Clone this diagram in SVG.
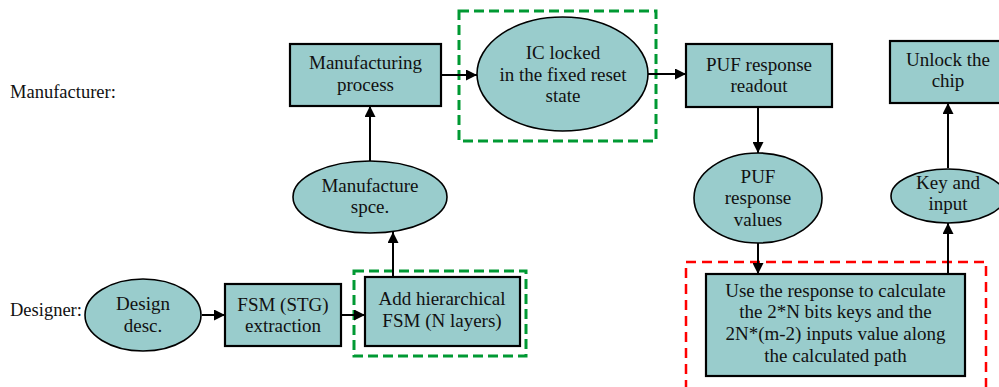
<svg xmlns="http://www.w3.org/2000/svg" width="999" height="387" viewBox="0 0 999 387">
  <defs>
    <marker id="arrow" viewBox="0 0 10 10" refX="10" refY="5" markerWidth="11" markerHeight="11" markerUnits="userSpaceOnUse" orient="auto">
      <path d="M0,0 L10,5 L0,10 Z" fill="#000"/>
    </marker>
  </defs>
  <style>
    .box { fill: #99cccc; stroke: #000; stroke-width: 2.2; }
    .oval { fill: #99cccc; stroke: #000; stroke-width: 1.6; }
    .lbl { font-family: "Liberation Serif", "Times New Roman", serif; font-size: 19px; fill: #111; text-anchor: middle; }
    .side { font-family: "Liberation Serif", "Times New Roman", serif; font-size: 18.5px; fill: #111; }
    .edge { stroke: #000; stroke-width: 2; fill: none; marker-end: url(#arrow); }
    .grp-green { fill: none; stroke: #009933; stroke-width: 3; stroke-dasharray: 10 5; }
    .grp-red { fill: none; stroke: #ff0000; stroke-width: 2.5; stroke-dasharray: 10 6; }
  </style>

  <rect width="999" height="387" fill="#fff"/>

  <!-- role labels -->
  <text class="side" x="10" y="98">Manufacturer:</text>
  <text class="side" x="10" y="316">Designer:</text>

  <!-- highlighted regions -->
  <rect class="grp-green" x="459" y="11" width="197" height="130"/>
  <rect class="grp-green" x="354" y="271" width="172" height="85"/>
  <rect class="grp-red" x="686" y="262" width="300" height="140"/>

  <!-- connectors -->
  <g id="connectors">
    <line class="edge" x1="202" y1="315" x2="225" y2="315"/>
    <line class="edge" x1="341" y1="315" x2="365" y2="315"/>
    <line class="edge" x1="393" y1="277" x2="393" y2="232"/>
    <line class="edge" x1="370" y1="161" x2="370" y2="106"/>
    <line class="edge" x1="441" y1="75" x2="477" y2="75"/>
    <line class="edge" x1="648" y1="74" x2="686" y2="74"/>
    <line class="edge" x1="758" y1="107" x2="758" y2="153"/>
    <line class="edge" x1="758" y1="243" x2="758" y2="274"/>
    <line class="edge" x1="948" y1="274" x2="948" y2="223"/>
    <line class="edge" x1="948" y1="168" x2="948" y2="103"/>
  </g>

  <!-- designer flow -->
  <g id="design-desc">
    <ellipse class="oval" cx="143" cy="315" rx="58" ry="36"/>
    <text class="lbl" x="143" y="310">Design</text>
    <text class="lbl" x="143" y="332">desc.</text>
  </g>
  <g id="fsm-extraction">
    <rect class="box" x="225" y="284" width="116" height="62"/>
    <text class="lbl" x="283" y="311">FSM (STG)</text>
    <text class="lbl" x="283" y="332">extraction</text>
  </g>
  <g id="add-hierarchical">
    <rect class="box" x="365" y="277" width="155" height="69"/>
    <text class="lbl" x="442" y="305">Add hierarchical</text>
    <text class="lbl" x="442" y="327">FSM (N layers)</text>
  </g>
  <g id="manufacture-spec">
    <ellipse class="oval" cx="370" cy="197" rx="77" ry="36"/>
    <text class="lbl" x="370" y="192">Manufacture</text>
    <text class="lbl" x="370" y="213">spce.</text>
  </g>

  <!-- manufacturer flow -->
  <g id="manufacturing-process">
    <rect class="box" x="290" y="44" width="151" height="62"/>
    <text class="lbl" x="365.5" y="69">Manufacturing</text>
    <text class="lbl" x="365.5" y="91">process</text>
  </g>
  <g id="ic-locked">
    <ellipse class="oval" cx="562.5" cy="74" rx="85.5" ry="57"/>
    <text class="lbl" x="563" y="59">IC locked</text>
    <text class="lbl" x="563" y="81">in the fixed reset</text>
    <text class="lbl" x="563" y="102">state</text>
  </g>
  <g id="puf-readout">
    <rect class="box" x="686" y="44" width="146" height="63"/>
    <text class="lbl" x="759" y="71">PUF response</text>
    <text class="lbl" x="759" y="92">readout</text>
  </g>
  <g id="puf-values">
    <ellipse class="oval" cx="758" cy="198" rx="64" ry="45"/>
    <text class="lbl" x="758" y="183">PUF</text>
    <text class="lbl" x="758" y="204">response</text>
    <text class="lbl" x="758" y="226">values</text>
  </g>
  <g id="calc-keys">
    <rect class="box" x="706" y="274" width="259" height="102"/>
    <text class="lbl" x="835.5" y="297">Use the response to calculate</text>
    <text class="lbl" x="835.5" y="318">the 2*N bits keys and the</text>
    <text class="lbl" x="835.5" y="340">2N*(m-2) inputs value along</text>
    <text class="lbl" x="835.5" y="362">the calculated path</text>
  </g>
  <g id="key-input">
    <ellipse class="oval" cx="948" cy="196" rx="57" ry="27"/>
    <text class="lbl" x="948" y="189">Key and</text>
    <text class="lbl" x="948" y="210">input</text>
  </g>
  <g id="unlock-chip">
    <rect class="box" x="890" y="41" width="116" height="62"/>
    <text class="lbl" x="948" y="66">Unlock the</text>
    <text class="lbl" x="948" y="87">chip</text>
  </g>
</svg>
